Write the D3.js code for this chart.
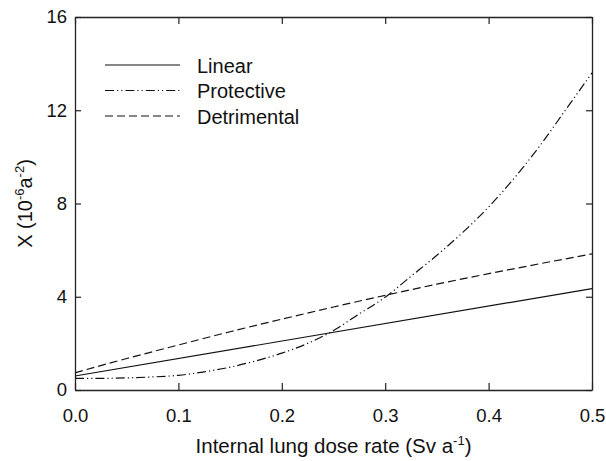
<!DOCTYPE html>
<html><head><meta charset="utf-8">
<script src="https://cdn.jsdelivr.net/npm/d3@7"></script>
<style>body{margin:0;background:#fff}svg{display:block}text{font-family:"Liberation Sans",Arial,sans-serif;fill:#111}</style>
</head><body><div id="chart"></div>
<script>
const xTicks = [0.0, 0.1, 0.2, 0.3, 0.4, 0.5];
const yTicks = [0, 4, 8, 12, 16];
const seriesNames = ["Linear", "Protective", "Detrimental"];
const linearX = [0, 0.5];
const linearY = [0.6, 4.35];
const protectiveX = [0, 0.025, 0.05, 0.075, 0.1, 0.125, 0.15, 0.175, 0.2, 0.225, 0.25, 0.275, 0.3, 0.325, 0.35, 0.375, 0.4, 0.425, 0.45, 0.475, 0.5];
const protectiveY = [0.50, 0.50, 0.52, 0.56, 0.63, 0.78, 0.98, 1.25, 1.58, 2.00, 2.55, 3.27, 3.98, 4.88, 5.78, 6.76, 7.85, 9.1, 10.5, 12.05, 13.6];
const detrimentalX = [0, 0.05, 0.1, 0.15, 0.2, 0.25, 0.3, 0.35, 0.4, 0.45, 0.5];
const detrimentalY = [0.74, 1.35, 1.93, 2.50, 3.04, 3.56, 4.06, 4.54, 4.99, 5.42, 5.84];

const W = 606, H = 461;
const m = {l: 75, r: 14, t: 17, b: 71};
const svg = d3.select("#chart").append("svg").attr("width", W).attr("height", H);
const x = d3.scaleLinear().domain([0, 0.5]).range([m.l, W - m.r]);
const y = d3.scaleLinear().domain([0, 16]).range([H - m.b, m.t]);

const ink = "#222";
const fmtX = d3.format(".1f");
const gB = svg.append("g").attr("transform", `translate(0,${y(0)})`)
  .call(d3.axisBottom(x).tickValues(xTicks).tickFormat(fmtX).tickSizeInner(-7).tickSizeOuter(0).tickPadding(19));
const gT = svg.append("g").attr("transform", `translate(0,${y(16)})`)
  .call(d3.axisTop(x).tickValues(xTicks).tickFormat("").tickSizeInner(-7).tickSizeOuter(0));
const gL = svg.append("g").attr("transform", `translate(${x(0)},0)`)
  .call(d3.axisLeft(y).tickValues(yTicks).tickFormat(d3.format("d")).tickSizeInner(-6).tickSizeOuter(0).tickPadding(8));
const gR = svg.append("g").attr("transform", `translate(${x(0.5)},0)`)
  .call(d3.axisRight(y).tickValues(yTicks).tickFormat("").tickSizeInner(-6).tickSizeOuter(0));
[gB, gT, gL, gR].forEach(g => {
  g.select(".domain").attr("stroke", ink).attr("stroke-width", 1.3);
  g.selectAll(".tick line").attr("stroke", ink).attr("stroke-width", 1.2);
  g.selectAll(".tick text").attr("font-size", 18.5).attr("font-family", "Liberation Sans, Arial, sans-serif").attr("fill", "#111");
});

// axis titles
const xt = svg.append("text").attr("x", (x(0) + x(0.5)) / 2).attr("y", 453)
  .attr("text-anchor", "middle").attr("font-size", 20.5);
xt.append("tspan").text("Internal lung dose rate (Sv a");
xt.append("tspan").attr("dy", -8).attr("font-size", 13).text("-1");
xt.append("tspan").attr("dy", 8).text(")");

const yt = svg.append("text").attr("transform", `translate(32,${(y(0) + y(16)) / 2}) rotate(-90)`)
  .attr("text-anchor", "middle").attr("font-size", 20);
yt.append("tspan").text("X (10");
yt.append("tspan").attr("dy", -8).attr("font-size", 13).text("-6");
yt.append("tspan").attr("dy", 8).text("a");
yt.append("tspan").attr("dy", -8).attr("font-size", 13).text("-2");
yt.append("tspan").attr("dy", 8).text(")");

// lines
const styles = {Linear: null, Protective: "9,3,1.2,3,1.2,3", Detrimental: "8,4"};
const series = [
  {name: "Linear", xs: linearX, ys: linearY},
  {name: "Protective", xs: protectiveX, ys: protectiveY},
  {name: "Detrimental", xs: detrimentalX, ys: detrimentalY}
];
const line = d3.line().x(d => x(d[0])).y(d => y(d[1])).curve(d3.curveMonotoneX);
series.forEach(s => {
  svg.append("path").datum(s.xs.map((v, i) => [v, s.ys[i]]))
    .attr("d", line).attr("fill", "none").attr("stroke", "#111").attr("stroke-width", 1.2)
    .attr("stroke-dasharray", styles[s.name]);
});

// legend
const lg = svg.append("g");
seriesNames.forEach((n, i) => {
  const yy = 65 + i * 25.5;
  lg.append("line").attr("x1", 105).attr("x2", 180).attr("y1", yy).attr("y2", yy)
    .attr("stroke", "#111").attr("stroke-width", 1.2).attr("stroke-dasharray", styles[n]);
  lg.append("text").attr("x", 197).attr("y", yy + 7.5).attr("font-size", 20).text(n);
});
</script></body></html>
